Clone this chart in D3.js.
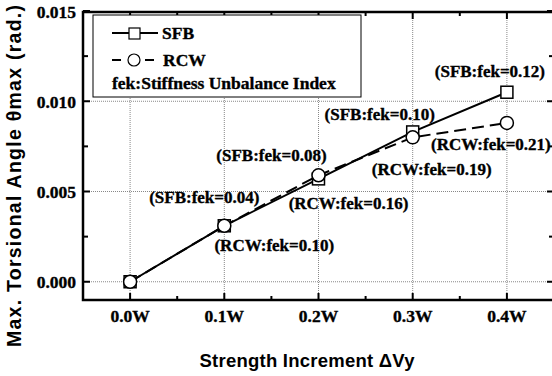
<!DOCTYPE html>
<html>
<head>
<meta charset="utf-8">
<script src="https://cdn.jsdelivr.net/npm/d3@7"></script>
<style>
  body { margin: 0; background: #fff; }
  svg { display: block; }
  .serif { font-family: "Liberation Serif", "Times New Roman", serif; font-weight: bold; stroke: #000; stroke-width: 0.35px; }
  .sans { font-family: "Liberation Sans", Arial, sans-serif; font-weight: bold; }
</style>
</head>
<body>
<svg id="chart" width="552" height="376"></svg>
<script>
// data
const xValues = [0, 0.1, 0.2, 0.3, 0.4];
const xTickLabels = ["0.0W", "0.1W", "0.2W", "0.3W", "0.4W"];
const yTicks = [0, 0.005, 0.010, 0.015];
const sfbValues = [0, 0.0031, 0.0057, 0.0083, 0.0105];
const rcwValues = [0, 0.0031, 0.0059, 0.0080, 0.0088];
const sfbLabels = [null, "(SFB:fek=0.04)", "(SFB:fek=0.08)", "(SFB:fek=0.10)", "(SFB:fek=0.12)"];
const rcwLabels = [null, "(RCW:fek=0.10)", "(RCW:fek=0.16)", "(RCW:fek=0.19)", "(RCW:fek=0.21)"];

const svg = d3.select("#chart");
const pLeft = 83, pRight = 554, pTop = 12, pBottom = 300;

const x = d3.scaleLinear().domain([-0.05, 0.45]).range([pLeft, pRight]);
const y = d3.scaleLinear().domain([-0.001, 0.015]).range([299.8, 11]);

// grid (dotted)
const grid = svg.append("g").attr("stroke", "#888").attr("stroke-width", 1).attr("stroke-dasharray", "1,1");
xValues.forEach(v => {
  grid.append("line").attr("x1", x(v)).attr("x2", x(v)).attr("y1", pTop).attr("y2", pBottom);
});
[0, 0.005, 0.010].forEach(v => {
  grid.append("line").attr("x1", pLeft).attr("x2", pRight).attr("y1", y(v)).attr("y2", y(v));
});

// ticks, inward on all four sides
const ticks = svg.append("g").attr("stroke", "#000").attr("stroke-width", 2);
d3.range(-0.05, 0.451, 0.05).forEach(v => {
  const len = (Math.round(v * 100) % 10 === 0) ? 7 : 4;
  ticks.append("line").attr("x1", x(v)).attr("x2", x(v)).attr("y1", pBottom).attr("y2", pBottom - len);
  ticks.append("line").attr("x1", x(v)).attr("x2", x(v)).attr("y1", pTop).attr("y2", pTop + len);
});
d3.range(0, 0.0151, 0.0025).forEach(v => {
  const len = (Math.round(v * 10000) % 50 === 0) ? 7 : 5;
  ticks.append("line").attr("x1", pLeft).attr("x2", pLeft + len).attr("y1", y(v)).attr("y2", y(v));
  ticks.append("line").attr("x1", pRight).attr("x2", pRight - len).attr("y1", y(v)).attr("y2", y(v));
});

// frame
svg.append("rect").attr("x", pLeft).attr("y", pTop).attr("width", pRight - pLeft).attr("height", pBottom - pTop)
  .attr("fill", "none").attr("stroke", "#000").attr("stroke-width", 2.5);

// tick labels
svg.append("g").selectAll("text").data(xValues).join("text")
  .attr("class", "serif").attr("font-size", 17.5).attr("text-anchor", "middle")
  .attr("x", d => x(d)).attr("y", 322)
  .text((d, i) => xTickLabels[i]);
svg.append("g").selectAll("text").data(yTicks).join("text")
  .attr("class", "serif").attr("font-size", 17.5).attr("text-anchor", "end")
  .attr("x", 76).attr("y", d => y(d) + 6.5)
  .text(d => d3.format(".3f")(d));

// axis titles
svg.append("text").attr("class", "sans").attr("font-size", 18.5).attr("text-anchor", "middle")
  .attr("x", 307).attr("y", 367)
  .attr("textLength", 215).attr("lengthAdjust", "spacing")
  .text("Strength Increment  \u0394Vy");
svg.append("text").attr("class", "sans").attr("font-size", 19.5).attr("text-anchor", "middle")
  .attr("transform", "translate(21,176) rotate(-90)")
  .attr("textLength", 342).attr("lengthAdjust", "spacing")
  .text("Max. Torsional Angle  \u03B8max (rad.)");

// lines
const line = d3.line().x((d, i) => x(xValues[i])).y(d => y(d));
svg.append("path").datum(rcwValues).attr("d", line)
  .attr("fill", "none").attr("stroke", "#000").attr("stroke-width", 2).attr("stroke-dasharray", "12,6");
svg.append("path").datum(sfbValues).attr("d", line)
  .attr("fill", "none").attr("stroke", "#000").attr("stroke-width", 2);

// markers
svg.append("g").selectAll("rect").data(sfbValues).join("rect")
  .attr("x", (d, i) => x(xValues[i]) - 6).attr("y", d => y(d) - 6)
  .attr("width", 12).attr("height", 12)
  .attr("fill", "#fff").attr("stroke", "#000").attr("stroke-width", 1.5);
svg.append("g").selectAll("circle").data(rcwValues).join("circle")
  .attr("cx", (d, i) => x(xValues[i])).attr("cy", d => y(d)).attr("r", 6.5)
  .attr("fill", "#fff").attr("stroke", "#000").attr("stroke-width", 1.5);

// point annotations (offsets from their point, text baseline)
const sfbOffsets = [null, [-20, -23], [-47, -18], [-33, -12], [-17, -15]];
const rcwOffsets = [null, [50, 25], [30, 34], [19, 38], [-16, 27]];
const ann = svg.append("g").attr("class", "serif").attr("font-size", 17).attr("text-anchor", "middle");
sfbLabels.forEach((t, i) => {
  if (!t) return;
  ann.append("text").attr("x", x(xValues[i]) + sfbOffsets[i][0]).attr("y", y(sfbValues[i]) + sfbOffsets[i][1]).text(t);
});
rcwLabels.forEach((t, i) => {
  if (!t) return;
  ann.append("text").attr("x", x(xValues[i]) + rcwOffsets[i][0]).attr("y", y(rcwValues[i]) + rcwOffsets[i][1]).text(t);
});

// legend
const lg = svg.append("g");
lg.append("rect").attr("x", 93).attr("y", 15).attr("width", 268).attr("height", 82)
  .attr("fill", "#fff").attr("stroke", "#000").attr("stroke-width", 1);
lg.append("line").attr("x1", 112).attr("x2", 158).attr("y1", 33).attr("y2", 33).attr("stroke", "#000").attr("stroke-width", 2);
lg.append("rect").attr("x", 129).attr("y", 28).attr("width", 11).attr("height", 11)
  .attr("fill", "#fff").attr("stroke", "#000").attr("stroke-width", 1.2);
lg.append("text").attr("class", "serif").attr("font-size", 17.5).attr("x", 162).attr("y", 39).text("SFB");
lg.append("line").attr("x1", 112).attr("x2", 121).attr("y1", 60).attr("y2", 60).attr("stroke", "#000").attr("stroke-width", 2);
lg.append("line").attr("x1", 145).attr("x2", 154).attr("y1", 60).attr("y2", 60).attr("stroke", "#000").attr("stroke-width", 2);
lg.append("circle").attr("cx", 134).attr("cy", 60).attr("r", 6)
  .attr("fill", "#fff").attr("stroke", "#000").attr("stroke-width", 1.2);
lg.append("text").attr("class", "serif").attr("font-size", 17.5).attr("x", 163).attr("y", 66).text("RCW");
lg.append("text").attr("class", "serif").attr("font-size", 17.5).attr("x", 112).attr("y", 89).text("fek:Stiffness Unbalance Index");
</script>
</body>
</html>
